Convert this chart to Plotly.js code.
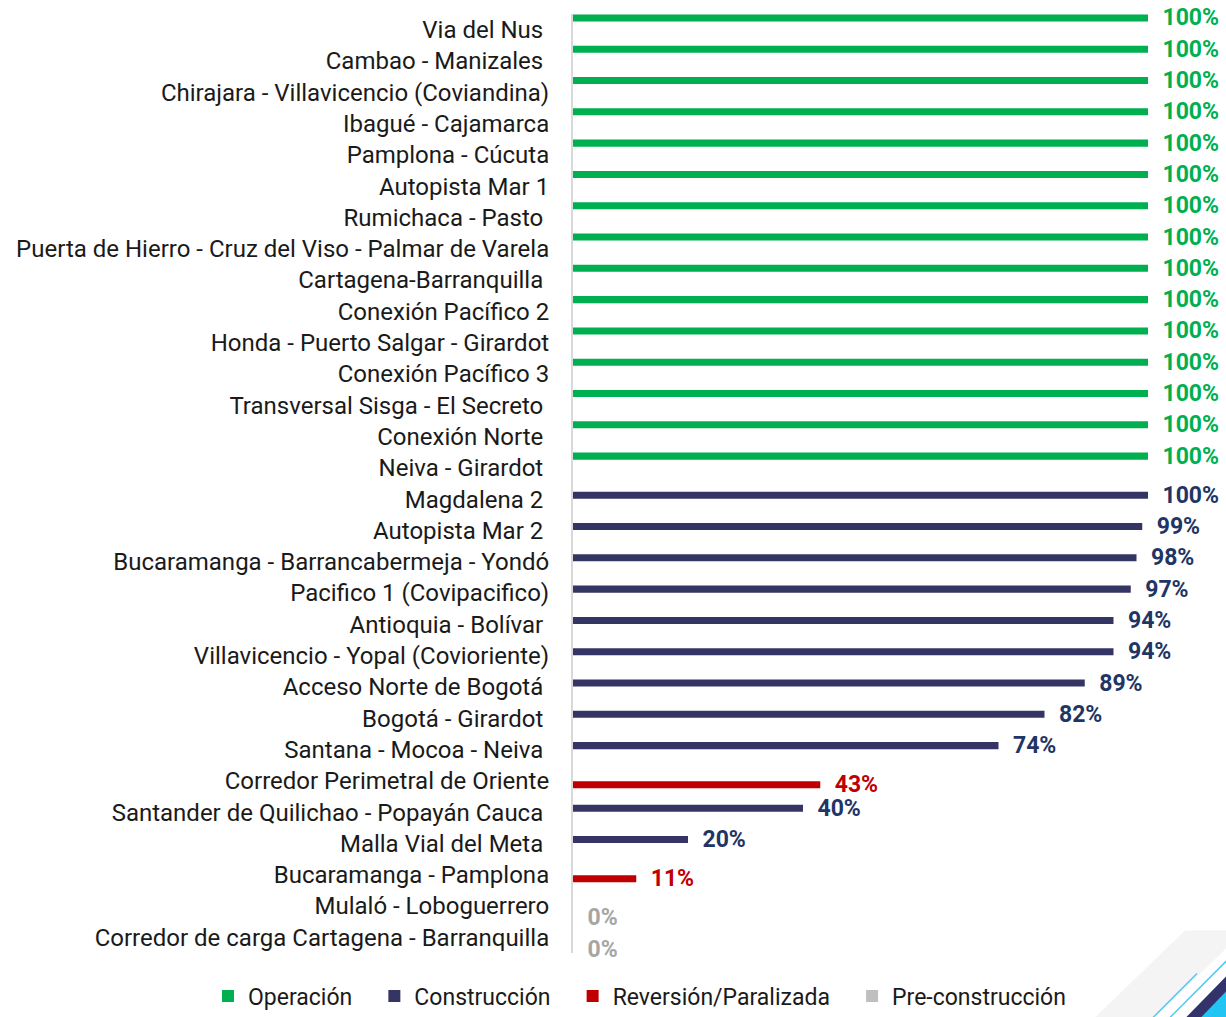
<!DOCTYPE html>
<html>
<head>
<meta charset="utf-8">
<script src="https://cdn.plot.ly/plotly-3.0.1.min.js"></script>
<style>
html,body{margin:0;padding:0;background:#fff;}
#chart{width:1226px;height:1017px;}
</style>
</head>
<body>
<div id="chart"></div>
<script>
var NB = '\u00a0';
var categories = [
  'Via del Nus' + NB,
  'Cambao - Manizales' + NB,
  'Chirajara - Villavicencio (Coviandina)',
  'Ibagué - Cajamarca',
  'Pamplona - Cúcuta',
  'Autopista Mar 1',
  'Rumichaca - Pasto' + NB,
  'Puerta de Hierro - Cruz del Viso - Palmar de Varela',
  'Cartagena-Barranquilla' + NB,
  'Conexión Pacífico 2',
  'Honda - Puerto Salgar - Girardot',
  'Conexión Pacífico 3',
  'Transversal Sisga - El Secreto' + NB,
  'Conexión Norte' + NB,
  'Neiva - Girardot' + NB,
  'Magdalena 2' + NB,
  'Autopista Mar 2' + NB,
  'Bucaramanga - Barrancabermeja - Yondó',
  'Pacifico 1 (Covipacifico)',
  'Antioquia - Bolívar' + NB,
  'Villavicencio - Yopal (Covioriente)',
  'Acceso Norte de Bogotá' + NB,
  'Bogotá - Girardot' + NB,
  'Santana - Mocoa - Neiva' + NB,
  'Corredor Perimetral de Oriente',
  'Santander de Quilichao - Popayán Cauca' + NB,
  'Malla Vial del Meta' + NB,
  'Bucaramanga - Pamplona',
  'Mulaló - Loboguerrero',
  'Corredor de carga Cartagena - Barranquilla'
];

// Progress (%) by status; null where the project is not in that status
var operacion = [100,100,100,100,100,100,100,100,100,100,100,100,100,100,100,
                 null,null,null,null,null,null,null,null,null,null,null,null,null,null,null];
var construccion = [null,null,null,null,null,null,null,null,null,null,null,null,null,null,null,
                    100,99,98,97,94,94,89,82,74,null,40,20,null,null,null];
var reversion = [null,null,null,null,null,null,null,null,null,null,null,null,null,null,null,
                 null,null,null,null,null,null,null,null,null,43,null,null,11,null,null];
var preconstruccion = [null,null,null,null,null,null,null,null,null,null,null,null,null,null,null,
                       null,null,null,null,null,null,null,null,null,null,null,null,null,0,0];

var seriesNames = ['Operación', 'Construcción', 'Reversión/Paralizada', 'Pre-construcción'];

var barColors = ['#00b050', '#343465', '#c00000', '#bfbfbf'];
var textColors = ['#00b050', '#1f3566', '#c00000', '#a6a6a6'];
var seriesData = [operacion, construccion, reversion, preconstruccion];

var traces = seriesData.map(function (vals, i) {
  return {
    type: 'bar',
    orientation: 'h',
    name: seriesNames[i] + NB + NB + NB,
    y: categories,
    x: vals,
    marker: {color: barColors[i]},
    texttemplate: NB + NB + '%{x}%',
    textposition: 'outside',
    constraintext: 'none',
    cliponaxis: false,
    textfont: {family: 'Roboto', size: 23, color: textColors[i], weight: 'bold'},
    hoverinfo: 'skip'
  };
});

// layout geometry helpers (decoration only)
var L = 573, R = 1148, T = 14.4, B = 952.6;
function px(x) { return (x - L) / (R - L); }
function py(y) { return (B - y) / (B - T); }
function path(pts) {
  return pts.map(function (p, k) { return (k ? 'L' : 'M') + px(p[0]) + ',' + py(p[1]); }).join(' ') + ' Z';
}
function line(a, b) {
  return 'M' + px(a[0]) + ',' + py(a[1]) + ' L' + px(b[0]) + ',' + py(b[1]);
}

var layout = {
  width: 1226,
  height: 1017,
  margin: {l: L, r: 1226 - R, t: T, b: 1017 - B, pad: 0, autoexpand: false},
  paper_bgcolor: '#ffffff',
  plot_bgcolor: '#ffffff',
  barmode: 'group',
  bargap: 0,
  bargroupgap: 0.1,
  showlegend: true,
  font: {family: 'Roboto', size: 23, color: '#1a1a1a'},
  xaxis: {
    range: [0, 100],
    showgrid: false,
    zeroline: false,
    showticklabels: false,
    showline: false,
    fixedrange: true
  },
  yaxis: {
    autorange: 'reversed',
    type: 'category',
    showgrid: false,
    zeroline: false,
    showline: true,
    linecolor: '#d9d9d9',
    linewidth: 2,
    ticks: '',
    ticklabelstandoff: 17,
    tickfont: {family: 'Roboto', size: 24, color: '#1a1a1a'},
    fixedrange: true
  },
  legend: {
    orientation: 'h',
    xref: 'paper',
    yref: 'paper',
    x: px(208),
    xanchor: 'left',
    y: py(1017),
    yanchor: 'bottom',
    font: {family: 'Roboto', size: 23, color: '#1a1a1a'},
    traceorder: 'normal',
    itemclick: false
  },
  shapes: [
    {type: 'path', xref: 'paper', yref: 'paper', layer: 'below',
     path: path([[1095,1017],[1185,930],[1226,930],[1226,948],[1155,1017]]),
     fillcolor: '#f4f4f4', line: {width: 0}},
    {type: 'path', xref: 'paper', yref: 'paper',
     path: line([1153,1017],[1197,973]), line: {color: '#4fc8f0', width: 1.5}},
    {type: 'path', xref: 'paper', yref: 'paper',
     path: line([1170,1017],[1228,959]), line: {color: '#4fc8f0', width: 1.5}},
    {type: 'path', xref: 'paper', yref: 'paper',
     path: path([[1186,1017],[1226,976],[1226,1017]]),
     fillcolor: '#33336b', line: {width: 0}},
    {type: 'path', xref: 'paper', yref: 'paper',
     path: path([[1201,1017],[1226,991],[1226,1017]]),
     fillcolor: '#22c4f4', line: {width: 0}}
  ]
};

Plotly.newPlot('chart', traces, layout, {displayModeBar: false, staticPlot: true});
</script>
</body>
</html>
